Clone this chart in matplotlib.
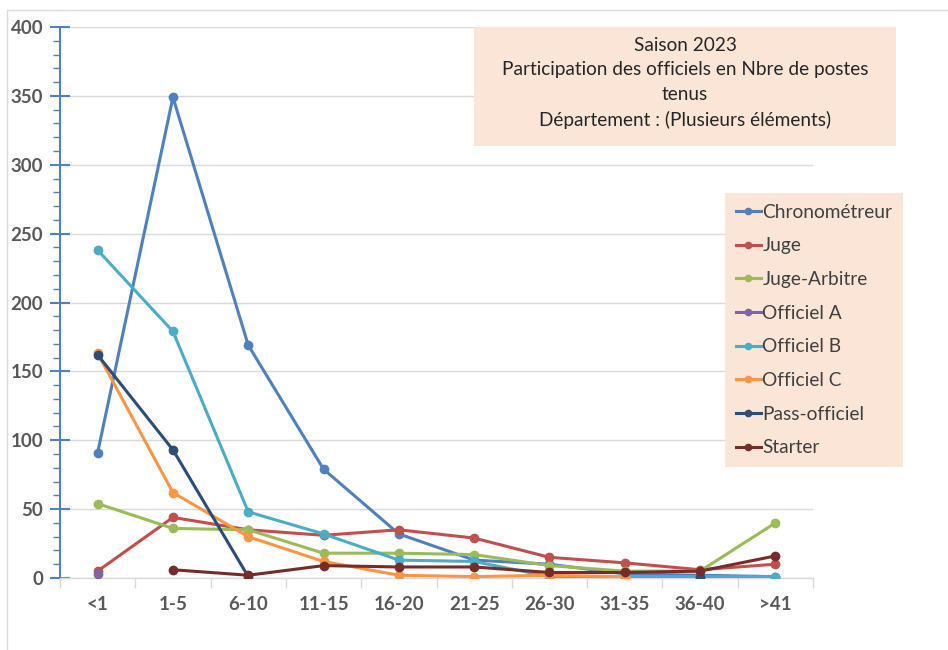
import numpy as np
import matplotlib
matplotlib.use("Agg")
import matplotlib.pyplot as plt
from matplotlib.patches import Rectangle
from matplotlib.ticker import MultipleLocator

plt.rcParams['font.family'] = ['Lato', 'DejaVu Sans']

categories = ["<1", "1-5", "6-10", "11-15", "16-20", "21-25", "26-30", "31-35", "36-40", ">41"]
nan = np.nan
chronometreur = [91, 349, 169, 79, 32, 13, 10, 3, 2, 1]
juge = [5, 44, 35, 31, 35, 29, 15, 11, 6, 10]
juge_arbitre = [54, 36, 35, 18, 18, 17, 9, 5, 5, 40]
officiel_a = [3, nan, nan, nan, nan, nan, nan, nan, nan, nan]
officiel_b = [238, 179, 48, 32, 13, 12, 1, 1, 1, 1]
officiel_c = [163, 62, 30, 12, 2, 1, 2, 1, nan, nan]
pass_officiel = [162, 93, 1, nan, nan, nan, nan, nan, 1, nan]
starter = [nan, 6, 2, 9, 8, 8, 4, 4, 5, 16]

series = [
    ("Chronométreur", chronometreur, "#4F81BD"),
    ("Juge", juge, "#C0504D"),
    ("Juge-Arbitre", juge_arbitre, "#9BBB59"),
    ("Officiel A", officiel_a, "#8064A2"),
    ("Officiel B", officiel_b, "#4BACC6"),
    ("Officiel C", officiel_c, "#F79646"),
    ("Pass-officiel", pass_officiel, "#2C4D75"),
    ("Starter", starter, "#772C2A"),
]

title_text = "Saison 2023\nParticipation des officiels en Nbre de postes\ntenus\nDépartement : (Plusieurs éléments)"

W, H = 948, 650
fig = plt.figure(figsize=(W / 100, H / 100), dpi=100)
fig.patch.set_facecolor("white")

# outer light border
fig.patches.append(Rectangle((7 / W, -0.01), 1.0, 1 - 10 / H + 0.01, transform=fig.transFigure,
                             fill=False, edgecolor="#D9D9D9", linewidth=1.0))

left, right, bottom, top = 60 / W, 813 / W, 1 - 578 / H, 1 - 27 / H
ax = fig.add_axes([left, bottom, right - left, top - bottom])

x = np.arange(len(categories))
for name, vals, col in series:
    ax.plot(x, vals, color=col, lw=2.2, marker="o", markersize=6, label=name, zorder=3)

ax.set_xlim(-0.5, len(categories) - 0.5)
ax.set_ylim(0, 400)
ax.yaxis.set_major_locator(MultipleLocator(50))
ax.yaxis.set_minor_locator(MultipleLocator(10))
ax.grid(axis="y", which="major", color="#D9D9D9", lw=1.0, zorder=0)
ax.set_axisbelow(True)

for s in ["top", "right"]:
    ax.spines[s].set_visible(False)
ax.spines["left"].set_color("#4F81BD")
ax.spines["left"].set_linewidth(1.5)
ax.spines["bottom"].set_color("#D9D9D9")
ax.spines["bottom"].set_linewidth(1.0)

ax.set_xticks(x)
ax.set_xticklabels(categories)
ax.set_xticks(np.arange(-0.5, len(categories), 1.0), minor=True)
ax.tick_params(axis="x", which="major", length=0, pad=13, labelsize=13.5, labelcolor="#595959")
ax.tick_params(axis="x", which="minor", length=7, color="#D9D9D9", width=1.0, direction="out")
ax.tick_params(axis="y", which="major", length=14, direction="inout", color="#4F81BD", width=1.5,
               labelsize=13.5, labelcolor="#595959", pad=5)
ax.tick_params(axis="y", which="minor", length=5, direction="out", color="#4F81BD", width=1.0)
for lbl in ax.get_xticklabels() + ax.get_yticklabels():
    lbl.set_fontweight("bold")

# title box
fig.patches.append(Rectangle((474 / W, 1 - 146 / H), (896 - 474) / W, (146 - 27) / H,
                             transform=fig.transFigure, facecolor="#FBE5D6", edgecolor="none", zorder=5))
fig.text((474 + 896) / 2 / W, 1 - 83 / H, title_text, ha="center", va="center", fontsize=13.7,
         color="#262626", linespacing=1.55, zorder=6)

leg = ax.legend(loc="upper left", bbox_to_anchor=(725 / W, 1 - 193 / H), bbox_transform=fig.transFigure,
                frameon=True, fancybox=False, facecolor="#FBE5D6", edgecolor="none", framealpha=1,
                fontsize=13.8, labelspacing=0.87, handlelength=1.35, handletextpad=0.05,
                borderpad=0.55, borderaxespad=0)
for t in leg.get_texts():
    t.set_color("#404040")
for h in leg.get_lines():
    h.set_markersize(4.5)

fig.savefig("out.png", dpi=100)
